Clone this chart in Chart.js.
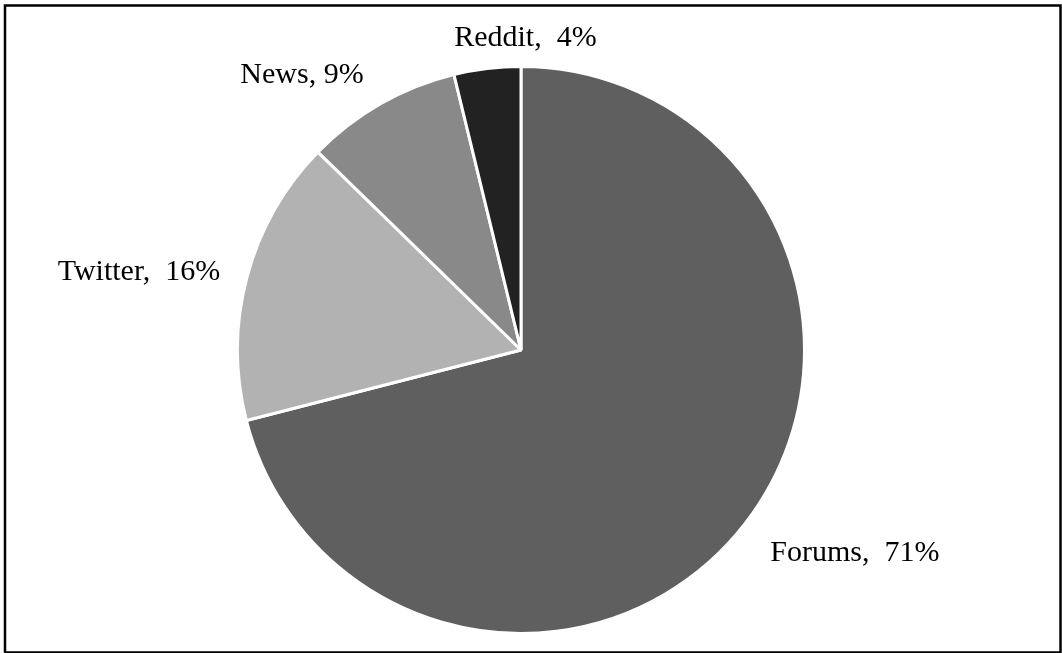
<!DOCTYPE html>
<html>
<head>
<meta charset="utf-8">
<script src="https://cdn.jsdelivr.net/npm/chart.js@4.4.1/dist/chart.umd.min.js"></script>
<style>
    html, body { margin: 0; padding: 0; background: #fff; }
    #wrap { position: relative; width: 1062px; height: 653px; }
</style>
</head>
<body>
<div id="wrap"><canvas id="sourceChart"></canvas></div>
<script>
// Share of mentions by source
const sources = ['Forums', 'Twitter', 'News', 'Reddit'];
const shares = [71.0, 16.3, 8.9, 3.8];
const sliceColors = ['#5f5f5f', '#b2b2b2', '#898989', '#222222'];

// label tweaks (pixels), kept apart from the data
const labelNudge = [[0, 8], [4, 1], [-1, -3], [42, 9]];

const outsideLabels = {
    id: 'outsideLabels',
    afterDatasetsDraw(chart) {
        const ctx = chart.ctx;
        const meta = chart.getDatasetMeta(0);
        const total = shares.reduce((s, v) => s + v, 0);
        ctx.save();
        ctx.font = '30px "Liberation Serif", "Times New Roman", serif';
        ctx.fillStyle = '#000';
        ctx.textBaseline = 'alphabetic';
        meta.data.forEach((arc, i) => {
            const mid = (arc.startAngle + arc.endAngle) / 2;
            const dx = Math.cos(mid), dy = Math.sin(mid);
            const rr = arc.outerRadius + 32;
            let x = arc.x + dx * rr;
            let y = arc.y + dy * rr;
            let align = 'center';
            if (dx > 0.3) align = 'left';
            else if (dx < -0.3) align = 'right';
            // vertical: centre caps on anchor, top labels sit above it
            if (align === 'center') y += dy < 0 ? 0 : 20;
            else y += 10;
            const pct = Math.round(shares[i] / total * 100);
            const gap = sources[i] === 'News' ? ' ' : '  ';
            ctx.textAlign = align;
            ctx.fillText(sources[i] + ',' + gap + pct + '%', x + labelNudge[i][0], y + labelNudge[i][1]);
        });
        ctx.restore();
    },
    afterDraw(chart) {
        // frame round the whole picture
        const ctx = chart.ctx;
        ctx.save();
        ctx.strokeStyle = '#000';
        ctx.lineWidth = 2.5;
        ctx.strokeRect(5, 5.5, 1055.5, 647);
        ctx.restore();
    }
};

new Chart(document.getElementById('sourceChart').getContext('2d'), {
    type: 'pie',
    data: {
        labels: sources,
        datasets: [{
            data: shares,
            backgroundColor: sliceColors,
            borderColor: '#ffffff',
            borderWidth: 3,
            hoverOffset: 0
        }]
    },
    options: {
        responsive: true,
        maintainAspectRatio: false,
        animation: false,
        layout: { padding: { top: 65, bottom: 18, left: 0, right: 20 } },
        plugins: {
            legend: { display: false },
            tooltip: { enabled: false }
        }
    },
    plugins: [outsideLabels]
});
</script>
</body>
</html>
